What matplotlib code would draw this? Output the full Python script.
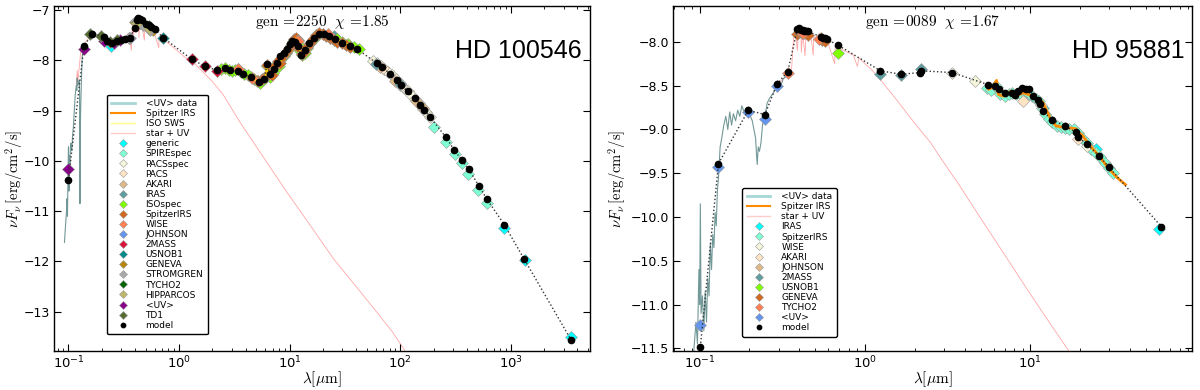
import matplotlib
matplotlib.use("Agg")
import matplotlib.pyplot as plt
from matplotlib.lines import Line2D
from matplotlib.ticker import MultipleLocator

plt.rcParams.update({
    "font.family": "DejaVu Sans",
    "mathtext.fontset": "cm",
    "xtick.direction": "in",
    "ytick.direction": "in",
    "xtick.top": True,
    "ytick.right": True,
    "xtick.major.size": 5,
    "ytick.major.size": 5,
    "xtick.minor.size": 2.5,
    "xtick.labelsize": 9.5,
    "ytick.labelsize": 9,
    "xtick.major.pad": 3,
    "ytick.major.pad": 3,
    "axes.linewidth": 1.0,
})

# ---------------- HD 100546 (left) ----------------
uv_lam_a = [0.092, 0.094, 0.096, 0.097, 0.098, 0.099, 0.100, 0.101, 0.102, 0.103, 0.104, 0.105,
            0.107, 0.109, 0.111, 0.113, 0.115, 0.117, 0.118, 0.119, 0.120, 0.121, 0.123, 0.125,
            0.126, 0.127, 0.128, 0.129, 0.131, 0.133, 0.136, 0.140]
uv_flux_a = [-11.62, -11.3, -11.0, -10.75, -11.1, -10.3, -9.72, -10.6, -9.9, -10.2, -9.75, -9.65,
             -9.8, -9.5, -9.3, -9.0, -8.7, -8.55, -8.5, -8.6, -8.35, -8.5, -8.45, -8.4,
             -8.6, -10.85, -9.3, -8.95, -8.4, -7.95, -7.75, -7.7]
star_lam_a = [0.118, 0.12, 0.122, 0.13, 0.16, 0.2, 0.25, 0.3, 0.34, 0.36, 0.37, 0.38, 0.385, 0.39,
              0.40, 0.41, 0.42, 0.43, 0.434, 0.44, 0.46, 0.486, 0.49, 0.5, 0.55, 0.6, 0.656,
              0.66, 0.72, 0.8, 0.93, 1.1, 1.4, 2.0, 2.5, 3.6, 5.8, 9.3, 15, 25, 40, 60, 85, 110]
star_flux_a = [-8.5, -8.2, -8.4, -7.75, -7.5, -7.58, -7.68, -7.62, -7.6, -7.55, -7.8, -7.22, -7.6,
               -7.2, -7.18, -7.45, -7.2, -7.25, -7.55, -7.27, -7.3, -7.6, -7.33, -7.35, -7.4,
               -7.47, -7.75, -7.52, -7.58, -7.66, -7.78, -7.92, -8.08, -8.42, -8.68, -9.25,
               -9.93, -10.6, -11.25, -11.95, -12.5, -12.98, -13.4, -13.77]
iso_lam_a = [2.4, 2.6, 2.8, 3.0, 3.2, 3.4, 3.6, 3.9, 4.2, 4.5, 4.8, 5.1, 5.4, 5.7, 6.0, 6.2, 6.4,
             6.7, 7.0, 7.3, 7.7, 8.0, 8.4, 8.8, 9.2, 9.7, 10.2, 10.8, 11.3, 11.8, 12.4, 13.0,
             13.7, 14.4, 15.2, 16.2, 17.3, 18.5, 20, 22, 24, 27, 30, 34, 38, 42]
iso_flux_a = [-8.18, -8.16, -8.2, -8.22, -8.2, -8.18, -8.24, -8.27, -8.3, -8.34, -8.38, -8.42,
              -8.45, -8.4, -8.36, -8.12, -8.28, -8.34, -8.26, -8.15, -8.05, -8.12, -7.98, -7.92,
              -7.86, -7.8, -7.7, -7.62, -7.6, -7.68, -7.82, -7.9, -7.85, -7.75, -7.66, -7.6,
              -7.5, -7.47, -7.48, -7.5, -7.55, -7.58, -7.64, -7.68, -7.73, -7.78]
irs_lam_a = [5.2, 5.6, 6.0, 6.2, 6.5, 6.9, 7.4, 7.8, 8.2, 8.7, 9.2, 9.8, 10.4, 11.0, 11.3, 11.7,
             12.3, 12.9, 13.6, 14.4, 15.3, 16.3, 17.4, 18.6, 20, 21.5, 23, 25, 27, 29.5, 32, 35]
irs_flux_a = [-8.42, -8.38, -8.33, -8.1, -8.28, -8.3, -8.12, -8.02, -8.05, -7.92, -7.84, -7.76,
              -7.66, -7.58, -7.55, -7.62, -7.78, -7.88, -7.84, -7.74, -7.66, -7.58, -7.5, -7.46,
              -7.48, -7.52, -7.56, -7.6, -7.63, -7.66, -7.7, -7.74]
model_lam_a = [0.1, 0.138, 0.164, 0.208, 0.225, 0.247, 0.274, 0.3, 0.324, 0.36, 0.40, 0.415,
               0.427, 0.44, 0.46, 0.5, 0.53, 0.56, 0.6, 0.72, 1.3, 1.72, 2.22, 2.59, 2.9, 3.39,
               3.8, 4.46, 5.3, 5.9, 6.25, 6.6, 7.2, 7.7, 8.2, 8.8, 9.4, 10.0, 10.6, 11.1, 11.8,
               12.8, 13.8, 15.1, 16.5, 18.5, 20.5, 22.7, 25.5, 29.9, 35, 41, 61.6, 69, 81, 94,
               102, 117, 135, 152, 165, 186, 257, 309, 363, 417, 512, 607, 875, 1318, 3530]
model_flux_a = [-10.37, -7.72, -7.47, -7.53, -7.62, -7.65, -7.62, -7.6, -7.58, -7.55, -7.35,
                -7.2, -7.16, -7.17, -7.2, -7.27, -7.3, -7.33, -7.38, -7.55, -7.98, -8.12, -8.2,
                -8.16, -8.2, -8.21, -8.27, -8.34, -8.43, -8.38, -8.08, -8.28, -8.18, -8.05,
                -7.92, -7.85, -7.78, -7.68, -7.62, -7.63, -7.72, -7.9, -7.8, -7.65, -7.55,
                -7.47, -7.48, -7.52, -7.58, -7.65, -7.72, -7.78, -8.06, -8.14, -8.27, -8.39,
                -8.5, -8.62, -8.75, -8.88, -8.99, -9.13, -9.52, -9.79, -9.99, -10.17, -10.49,
                -10.76, -11.27, -11.95, -13.57]

generic_a = ([0.24, 875, 1330, 3500], [-7.72, -11.33, -11.98, -13.5])
spirespec_a = ([204, 257, 316, 363, 409, 510, 607], [-9.33, -9.62, -9.87, -10.05, -10.27, -10.58, -10.83])
pacsspec_a = ([57, 62, 67, 72, 78, 85, 92, 100, 108, 117, 126, 136, 147, 158, 170, 185],
              [-8.02, -8.06, -8.12, -8.17, -8.23, -8.3, -8.37, -8.46, -8.55, -8.62, -8.69,
               -8.76, -8.84, -8.93, -9.02, -9.12])
pacs_a = ([70, 100, 160], [-8.16, -8.5, -8.97])
akari_a = ([9, 18, 65, 90, 140, 160], [-7.88, -7.48, -8.13, -8.42, -8.8, -8.95])
iras_a = ([12, 25, 60, 100], [-7.6, -7.52, -8.08, -8.47])
wise_a = ([3.4, 4.6, 12, 22], [-8.18, -8.36, -7.62, -7.48])
johnson_a = ([0.36, 0.44, 0.55], [-7.56, -7.24, -7.37])
twomass_a = ([1.3, 1.72, 2.22], [-7.98, -8.12, -8.21])
usnob1_a = ([0.44, 0.72], [-7.26, -7.55])
geneva_a = ([0.35, 0.40, 0.42, 0.45, 0.54, 0.58], [-7.56, -7.24, -7.22, -7.26, -7.36, -7.39])
stromgren_a = ([0.35, 0.41, 0.47, 0.55], [-7.55, -7.22, -7.3, -7.4])
tycho2_a = ([0.42, 0.53], [-7.24, -7.32])
hipparcos_a = ([0.42, 0.53], [-7.26, -7.35])
uvphot_a = ([0.1, 0.138, 0.208, 0.26, 0.29], [-10.16, -7.77, -7.62, -7.66, -7.6])
td1_a = ([0.156, 0.197, 0.236, 0.274], [-7.47, -7.52, -7.64, -7.6])

# ---------------- HD 95881 (right) ----------------
uv_lam_b = [0.092, 0.095, 0.097, 0.099, 0.100, 0.101, 0.102, 0.104, 0.106, 0.108, 0.110, 0.112,
            0.114, 0.116, 0.118, 0.120, 0.122, 0.124, 0.126, 0.128, 0.130, 0.133, 0.136, 0.140,
            0.144, 0.148, 0.152, 0.156, 0.160, 0.165, 0.170, 0.175, 0.180, 0.186, 0.192, 0.197,
            0.203, 0.208, 0.213, 0.218, 0.221, 0.223, 0.226, 0.230, 0.235, 0.240, 0.245, 0.251,
            0.256, 0.262, 0.270, 0.280, 0.290, 0.300, 0.310, 0.320, 0.330]
uv_flux_b = [-11.55, -11.2, -11.45, -10.6, -11.0, -9.85, -11.1, -10.9, -11.3, -10.85, -11.2,
             -10.7, -10.9, -10.3, -10.6, -10.2, -10.35, -9.95, -10.1, -9.7, -9.55, -9.2, -9.1,
             -8.95, -8.85, -9.0, -8.8, -8.95, -8.82, -8.9, -8.78, -8.85, -8.73, -8.8, -8.75,
             -8.76, -8.85, -8.9, -9.0, -9.1, -9.3, -9.4, -9.2, -9.25, -9.15, -8.95, -8.85, -8.8,
             -8.7, -8.66, -8.62, -8.58, -8.5, -8.47, -8.5, -8.42, -8.4]
star_lam_b = [0.30, 0.34, 0.36, 0.37, 0.38, 0.39, 0.395, 0.41, 0.412, 0.42, 0.434, 0.44, 0.47,
              0.486, 0.49, 0.55, 0.6, 0.656, 0.66, 0.75, 0.85, 0.9, 0.92, 1.0, 1.1, 1.3, 1.58,
              2.0, 2.49, 3.0, 3.7, 4.54, 6.0, 8.0, 10, 13, 17.1]
star_flux_b = [-8.47, -8.38, -8.3, -7.95, -7.9, -8.1, -7.9, -7.89, -8.12, -7.9, -8.16, -7.91,
               -7.92, -8.15, -7.94, -7.98, -8.02, -8.25, -8.05, -8.1, -8.15, -8.28, -8.18, -8.25,
               -8.32, -8.48, -8.68, -8.93, -9.15, -9.38, -9.63, -9.89, -10.24, -10.6, -10.88,
               -11.2, -11.53]
irs_lam_b = [5.6, 5.9, 6.25, 6.4, 6.9, 7.7, 8.2, 9.0, 9.7, 10.8, 11.9, 13.1, 14.3, 16.4, 18.8,
             19.3, 20.7, 22.6, 26, 29.9, 33.5, 37.6]
irs_flux_b = [-8.54, -8.52, -8.44, -8.6, -8.62, -8.56, -8.62, -8.58, -8.6, -8.64, -8.69, -8.86,
              -8.96, -8.98, -8.99, -9.02, -9.07, -9.17, -9.3, -9.45, -9.55, -9.63]
model_lam_b = [0.101, 0.13, 0.197, 0.248, 0.294, 0.341, 0.39, 0.40, 0.41, 0.42, 0.43, 0.44, 0.45,
               0.54, 0.555, 0.57, 0.59, 0.69, 1.24, 1.65, 2.15, 2.18, 3.37, 5.58, 6.1, 6.5, 7.0,
               7.7, 8.05, 8.4, 8.96, 9.4, 9.8, 10.4, 11.1, 11.4, 11.9, 13.5, 16.2, 18.8, 19.5,
               22.1, 26, 29.9, 62]
model_flux_b = [-11.48, -9.39, -8.78, -8.83, -8.48, -8.34, -7.85, -7.84, -7.86, -7.86, -7.87,
                -7.87, -7.88, -7.94, -7.95, -7.96, -7.97, -8.04, -8.33, -8.37, -8.35, -8.33,
                -8.35, -8.49, -8.5, -8.54, -8.58, -8.58, -8.61, -8.56, -8.53, -8.54, -8.54,
                -8.62, -8.66, -8.71, -8.79, -8.89, -8.96, -9.03, -9.09, -9.17, -9.3, -9.43,
                -10.11]

iras_b = ([12, 25, 60], [-8.75, -9.22, -10.14])
spitzerirs_b = ([5.5, 5.8, 6.1, 6.3, 6.6, 7.0, 7.4, 7.8, 8.2, 8.6, 9.0, 9.4, 9.8, 10.3, 10.8,
                 11.3, 11.8, 12.3, 12.9, 13.6, 14.4, 15.3, 16.2, 17.2, 18.3, 19.4, 20.6, 21.9,
                 23.3, 24.8, 26.4, 28.1, 29.9, 31.8],
                [-8.53, -8.55, -8.5, -8.52, -8.6, -8.62, -8.6, -8.58, -8.6, -8.58, -8.56, -8.57,
                 -8.6, -8.62, -8.65, -8.68, -8.76, -8.82, -8.88, -8.92, -8.96, -8.97, -8.98,
                 -8.99, -9.0, -9.04, -9.1, -9.16, -9.22, -9.27, -9.32, -9.38, -9.44, -9.5])
wise_b = ([3.37, 4.6, 11.6, 22], [-8.36, -8.45, -8.72, -9.19])
akari_b = ([9.0, 19.3], [-8.67, -9.11])
johnson_b = ([0.44, 0.55], [-7.9, -7.97])
twomass_b = ([1.24, 1.65, 2.17], [-8.37, -8.38, -8.31])
usnob1_b = ([0.69], [-8.13])
geneva_b = ([0.39, 0.40, 0.415, 0.43, 0.45, 0.54, 0.55, 0.575],
            [-7.91, -7.89, -7.9, -7.9, -7.92, -7.96, -7.98, -7.99])
tycho2_b = ([0.341, 0.42, 0.53], [-8.36, -7.9, -7.97])
uvphot_b = ([0.1, 0.13, 0.197, 0.248, 0.294], [-11.23, -9.43, -8.8, -8.88, -8.5])

phot_a = [("generic", "cyan", generic_a), ("SPIREspec", "aquamarine", spirespec_a),
          ("PACSspec", "beige", pacsspec_a), ("PACS", "bisque", pacs_a),
          ("AKARI", "burlywood", akari_a), ("IRAS", "cadetblue", iras_a),
          ("ISOspec", "chartreuse", (iso_lam_a, iso_flux_a)),
          ("SpitzerIRS", "chocolate", (irs_lam_a, irs_flux_a)),
          ("WISE", "coral", wise_a), ("JOHNSON", "cornflowerblue", johnson_a),
          ("2MASS", "crimson", twomass_a), ("USNOB1", "darkcyan", usnob1_a),
          ("GENEVA", "darkgoldenrod", geneva_a), ("STROMGREN", "darkgray", stromgren_a),
          ("TYCHO2", "darkgreen", tycho2_a), ("HIPPARCOS", "darkkhaki", hipparcos_a),
          ("<UV>", "darkmagenta", uvphot_a), ("TD1", "darkolivegreen", td1_a)]
phot_b = [("IRAS", "cyan", iras_b), ("SpitzerIRS", "aquamarine", spitzerirs_b),
          ("WISE", "beige", wise_b), ("AKARI", "bisque", akari_b),
          ("JOHNSON", "burlywood", johnson_b), ("2MASS", "cadetblue", twomass_b),
          ("USNOB1", "chartreuse", usnob1_b), ("GENEVA", "chocolate", geneva_b),
          ("TYCHO2", "coral", tycho2_b), ("<UV>", "cornflowerblue", uvphot_b)]


def draw_panel(ax, uv, star, irs, irs_lw, iso, phot, model, title, star_name, leg_xy, leg_space):
    handles = []
    ax.plot(uv[0], uv[1], color="#4f7f7f", lw=0.8, alpha=0.8, zorder=2)
    handles.append(Line2D([], [], color="#a6d6d6", lw=2, label="<UV> data"))
    ax.plot(irs[0], irs[1], color="darkorange", lw=irs_lw, zorder=4)
    handles.append(Line2D([], [], color="darkorange", lw=1.5, label="Spitzer IRS"))
    if iso is not None:
        ax.plot(iso[0], iso[1], color="yellow", lw=1, alpha=0.7, zorder=4)
        handles.append(Line2D([], [], color="#ffff88", lw=1, label="ISO SWS"))
    ax.plot(star[0], star[1], color="red", lw=0.6, alpha=0.35, zorder=1)
    handles.append(Line2D([], [], color="#ffcccc", lw=1, label="star + UV"))

    for name, col, (lam, flux) in phot:
        h, = ax.plot(lam, flux, "D", color=col, ms=6.5, mec="0.6", mew=0.4, zorder=3, label=name)
        handles.append(h)

    ax.plot(model[0], model[1], ":", color="0.2", lw=1.0, zorder=5)
    h, = ax.plot(model[0], model[1], "o", color="k", ms=4.5, mec="k", zorder=6, label="model")
    handles.append(h)

    ax.set_xscale("log")
    ax.set_xlabel(r"$\lambda[\mu\mathrm{m}]$", fontsize=11, labelpad=-2)
    ax.set_ylabel(r"$\nu F_\nu\,[\mathrm{erg/cm^2/s}]$", fontsize=10.5)
    ax.text(0.5, 0.955, title, transform=ax.transAxes, ha="center", va="center", fontsize=11)
    ax.text(0.985, 0.87, star_name, transform=ax.transAxes, ha="right", va="center",
            fontsize=18, family=["Liberation Sans Narrow", "Liberation Sans"])
    leg = ax.legend(handles=handles, loc="lower left", bbox_to_anchor=leg_xy, fontsize=6.5,
                    labelspacing=leg_space, handlelength=2.6, handletextpad=1.2, numpoints=1,
                    markerscale=0.7, fancybox=True, framealpha=1, borderpad=0.5)
    leg.get_frame().set_edgecolor("k")
    leg.get_frame().set_linewidth(1.0)


fig = plt.figure(figsize=(12, 3.9), dpi=100)
ax1 = fig.add_axes([54 / 1200, 39 / 390, 536 / 1200, 345 / 390])
ax2 = fig.add_axes([673 / 1200, 39 / 390, 519 / 1200, 345 / 390])

draw_panel(ax1, (uv_lam_a, uv_flux_a), (star_lam_a, star_flux_a), (irs_lam_a, irs_flux_a), 1.0,
           (iso_lam_a, iso_flux_a), phot_a, (model_lam_a, model_flux_a),
           r"$\mathrm{gen}\,=\!2250\ \ \chi\,=\!1.85$", "HD 100546", (0.09, 0.035), 0.12)
ax1.set_xlim(0.074, 5200)
ax1.set_ylim(-13.78, -6.92)
ax1.yaxis.set_major_locator(MultipleLocator(1))
ax1.yaxis.set_label_coords(-0.052, 0.5)

draw_panel(ax2, (uv_lam_b, uv_flux_b), (star_lam_b, star_flux_b), (irs_lam_b, irs_flux_b), 2.0,
           None, phot_b, (model_lam_b, model_flux_b),
           r"$\mathrm{gen}\,=\!0089\ \ \chi\,=\!1.67$", "HD 95881", (0.125, 0.028), 0.12)
ax2.set_xlim(0.069, 95)
ax2.set_ylim(-11.53, -7.59)
ax2.yaxis.set_major_locator(MultipleLocator(0.5))
ax2.yaxis.set_label_coords(-0.085, 0.5)

fig.savefig("out.png", dpi=100)
